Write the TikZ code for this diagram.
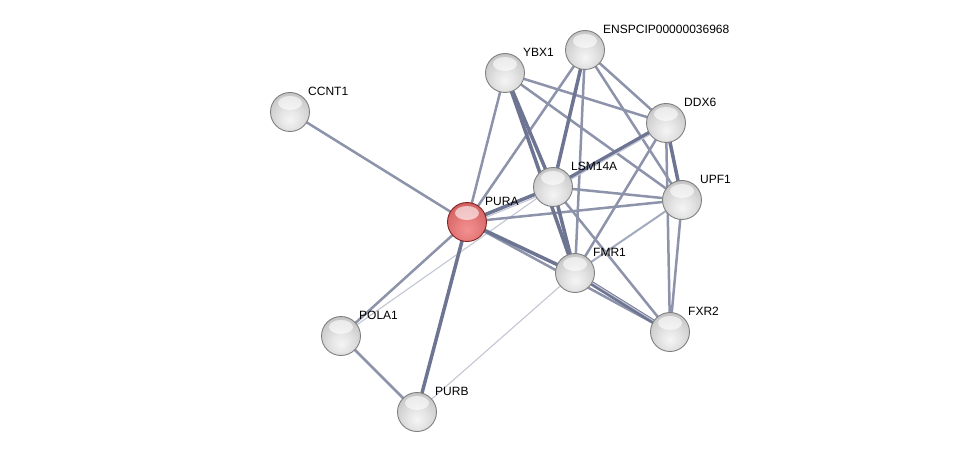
\documentclass[tikz,border=0pt]{standalone}
\usepackage{fontspec}
\setmainfont{Liberation Sans}
\pgfdeclareradialshading{greyball}{\pgfpoint{0bp}{-10bp}}{color(0bp)=(white!96!black); color(12bp)=(white!90!black); color(28bp)=(white!80!black); color(38bp)=(white!70!black); color(46bp)=(white!55!black); color(50bp)=(white!45!black); color(100bp)=(white!45!black)}
\pgfdeclareradialshading{redball}{\pgfpoint{0bp}{-10bp}}{color(0bp)=(rgb,255:red,242;green,145;blue,145); color(14bp)=(rgb,255:red,232;green,125;blue,125); color(30bp)=(rgb,255:red,212;green,100;blue,100); color(40bp)=(rgb,255:red,190;green,80;blue,80); color(47bp)=(rgb,255:red,150;green,50;blue,50); color(50bp)=(rgb,255:red,130;green,35;blue,35); color(100bp)=(rgb,255:red,130;green,35;blue,35)}
\begin{document}
\begin{tikzpicture}[x=1pt,y=-1pt,
  e/.style={draw=edgecol,line width=2.5pt},
  ek/.style={draw=edgedark,line width=3.5pt},
  el/.style={draw=edgelight,line width=1.1pt},
  em/.style={draw=edgemid,line width=2pt},
  gloss/.style={path picture={\fill[white,opacity=0.6] ([yshift=9pt]path picture bounding box.center) ellipse [x radius=12pt,y radius=7pt];}},
  prot/.style={circle,minimum size=39pt,inner sep=0pt,draw=black!50,line width=0.9pt,shading=greyball,gloss},
  protred/.style={circle,minimum size=39pt,inner sep=0pt,draw={rgb,255:red,130;green,35;blue,35},line width=0.9pt,shading=redball,gloss},
  lab/.style={anchor=west,inner sep=0pt,font=\fontsize{12}{14}\selectfont}
]
\definecolor{edgecol}{HTML}{8C93AA}
\definecolor{edgedark}{HTML}{6E7592}
\definecolor{edgelight}{HTML}{C3C7D4}
\definecolor{edgemid}{HTML}{A3A9BE}
\useasboundingbox (0,0) rectangle (976,457);
\fill[white] (0,0) rectangle (976,457);
% node positions
\coordinate (pCCNT1) at (290,112);
\coordinate (pYBX1) at (505,73);
\coordinate (pENSP) at (585,50);
\coordinate (pDDX6) at (666,123);
\coordinate (pLSM) at (553,187);
\coordinate (pUPF1) at (682,200);
\coordinate (pPURA) at (467,222);
\coordinate (pFMR1) at (575,273);
\coordinate (pFXR2) at (670,332);
\coordinate (pPOLA1) at (341,336);
\coordinate (pPURB) at (417,412);
% edges
\draw[el] (pPOLA1) -- (pLSM);
\draw[el] (pPURB) -- (pFMR1);
\draw[e] (pCCNT1) -- (pPURA);
\draw[e] (pPURA) -- (pPOLA1);
\draw[ek] (pPURA) -- (pPURB);
\draw[e] (pPOLA1) -- (pPURB);
\draw[e] (pPURA) -- (pYBX1);
\draw[e] (pPURA) -- (pENSP);
\draw[e] (pPURA) -- (pUPF1);
\draw[e] (pPURA) -- (pFXR2);
\draw[ek] (pPURA) -- (pFMR1);
\draw[ek] (pPURA) -- (pLSM);
\draw[el] ([yshift=-3pt]pPURA) -- ([yshift=-3pt]pLSM);
\draw[ek] (pYBX1) -- (pLSM);
\draw[ek] (pYBX1) -- (pFMR1);
\draw[e] (pYBX1) -- (pDDX6);
\draw[e] (pYBX1) -- (pUPF1);
\draw[ek] (pENSP) -- (pLSM);
\draw[e] (pENSP) -- (pFMR1);
\draw[e] (pENSP) -- (pDDX6);
\draw[e] (pENSP) -- (pUPF1);
\draw[ek] (pDDX6) -- (pLSM);
\draw[el] ([yshift=-2.5pt]pDDX6) -- ([yshift=-2.5pt]pLSM);
\draw[ek] (pDDX6) -- (pUPF1);
\draw[e] (pDDX6) -- (pFMR1);
\draw[e] (pDDX6) -- (pFXR2);
\draw[e] (pLSM) -- (pUPF1);
\draw[ek] (pLSM) -- (pFMR1);
\draw[e] (pLSM) -- (pFXR2);
\draw[em] (pUPF1) -- (pFMR1);
\draw[e] (pUPF1) -- (pFXR2);
\draw[ek,line width=4.6pt] (pFMR1) -- (pFXR2);
\draw[el] ([yshift=1pt]pFMR1) -- ([yshift=1pt]pFXR2);
% nodes
\node[prot] (CCNT1) at (pCCNT1) {};
\node[prot] (YBX1) at (pYBX1) {};
\node[prot] (ENSP) at (pENSP) {};
\node[prot] (DDX6) at (pDDX6) {};
\node[prot] (LSM) at (pLSM) {};
\node[prot] (UPF1) at (pUPF1) {};
\node[protred] (PURA) at (pPURA) {};
\node[prot] (FMR1) at (pFMR1) {};
\node[prot] (FXR2) at (pFXR2) {};
\node[prot] (POLA1) at (pPOLA1) {};
\node[prot] (PURB) at (pPURB) {};
% labels
\node[lab] (lCCNT1) at ([xshift=18pt,yshift=21pt]CCNT1.center) {CCNT1};
\node[lab] (lYBX1) at ([xshift=18pt,yshift=21pt]YBX1.center) {YBX1};
\node[lab] (lENSP) at ([xshift=18pt,yshift=21pt]ENSP.center) {ENSPCIP00000036968};
\node[lab] (lDDX6) at ([xshift=18pt,yshift=21pt]DDX6.center) {DDX6};
\node[lab] (lLSM) at ([xshift=18pt,yshift=21pt]LSM.center) {LSM14A};
\node[lab] (lUPF1) at ([xshift=18pt,yshift=21pt]UPF1.center) {UPF1};
\node[lab] (lPURA) at ([xshift=18pt,yshift=21pt]PURA.center) {PURA};
\node[lab] (lFMR1) at ([xshift=18pt,yshift=21pt]FMR1.center) {FMR1};
\node[lab] (lFXR2) at ([xshift=18pt,yshift=21pt]FXR2.center) {FXR2};
\node[lab] (lPOLA1) at ([xshift=18pt,yshift=21pt]POLA1.center) {POLA1};
\node[lab] (lPURB) at ([xshift=18pt,yshift=21pt]PURB.center) {PURB};
\end{tikzpicture}
\end{document}
